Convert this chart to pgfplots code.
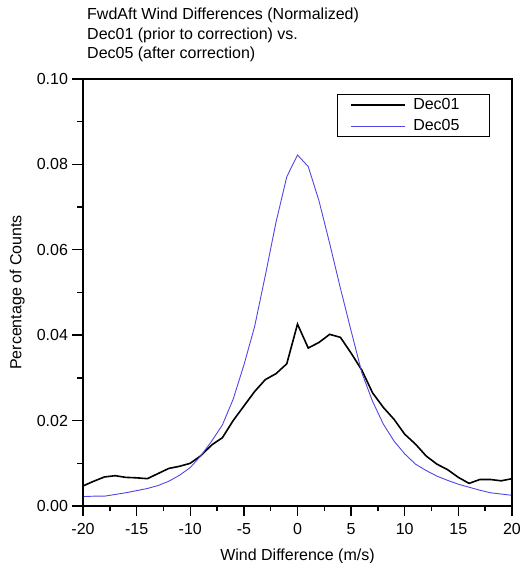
\documentclass[border=0pt]{standalone}
\usepackage{fontspec}
\setmainfont{Liberation Sans}
\usepackage{pgfplots}
\pgfplotsset{compat=1.18}
\definecolor{dec05}{RGB}{80,70,230}
\newcommand{\ffont}{\fontsize{16}{19.5}\selectfont}
\begin{document}
\begin{tikzpicture}
\begin{axis}[
  scale only axis, width=429pt, height=427pt,
  xmin=-20, xmax=20, ymin=0, ymax=0.10,
  xtick={-20,-15,-10,-5,0,5,10,15,20}, minor x tick num=1,
  ytick={0,0.02,0.04,0.06,0.08,0.10}, minor y tick num=1,
  tick align=outside, tick pos=left,
  major tick length=10.5pt, minor tick length=5.5pt,
  axis line style={draw=black, line width=1.5pt},
  every tick/.style={black, line width=1.4pt},
  /pgf/number format/assume math mode=true,
  scaled y ticks=false,
  yticklabel style={/pgf/number format/fixed, /pgf/number format/fixed zerofill, /pgf/number format/precision=2, xshift=-1pt},
  xticklabel style={yshift=-3pt},
  tick label style={font=\ffont},
  label style={font=\ffont},
  xlabel={Wind Difference (m/s)},
  ylabel={Percentage of Counts},
  xlabel style={at={(axis description cs:0.5,-0.1265)}, anchor=base, inner sep=0pt},
  ylabel style={at={(axis description cs:-0.1352,0.5)}, anchor=south, inner sep=0pt},
  title={FwdAft Wind Differences (Normalized)\\Dec01 (prior to correction) vs.\\Dec05 (after correction)},
  title style={at={(axis description cs:0,1)}, anchor=north west, xshift=4pt, yshift=65pt, align=left, inner sep=0pt, font=\ffont},
  legend style={at={(axis description cs:0.9487,0.9649)}, anchor=north east,
    draw=black, line width=1.4pt, fill=white, font=\ffont,
    inner xsep=13pt, inner ysep=3pt, row sep=6pt,
    nodes={inner sep=0pt, text height=11.5pt, text depth=3.4pt},
    /tikz/every odd column/.append style={column sep=7pt}},
  legend cell align=left,
  legend image code/.code={\draw[#1] (0pt,0pt) -- (54pt,0pt);},
]
\addplot[black, line width=1.6pt] coordinates {
(-20,0.0047) (-19,0.0058) (-18,0.0068) (-17,0.0071) (-16,0.0067) (-15,0.0066)
(-14,0.0064) (-13,0.0076) (-12,0.0088) (-11,0.0093) (-10,0.0100) (-9,0.0118)
(-8,0.0143) (-7,0.0160) (-6,0.0200) (-5,0.0234) (-4,0.0268) (-3,0.0296)
(-2,0.0310) (-1,0.0333) (0,0.0426) (1,0.0370) (2,0.0383) (3,0.0402)
(4,0.0395) (5,0.0358) (6,0.0318) (7,0.0265) (8,0.0231) (9,0.0203)
(10,0.0168) (11,0.0145) (12,0.0117) (13,0.0098) (14,0.0085) (15,0.0067)
(16,0.0053) (17,0.0062) (18,0.0062) (19,0.0059) (20,0.0064)
};
\addlegendentry{\makebox[63pt][l]{Dec01}}
\addplot[dec05, line width=0.9pt] coordinates {
(-20,0.0022) (-19,0.0023) (-18,0.0023) (-17,0.0027) (-16,0.0031) (-15,0.0036)
(-14,0.0041) (-13,0.0048) (-12,0.0058) (-11,0.0072) (-10,0.0090) (-9,0.0118)
(-8,0.0152) (-7,0.0190) (-6,0.0250) (-5,0.0330) (-4,0.0420) (-3,0.0540)
(-2,0.0665) (-1,0.0771) (0,0.0822) (1,0.0795) (2,0.0715) (3,0.0615)
(4,0.0510) (5,0.0410) (6,0.0312) (7,0.0245) (8,0.0192) (9,0.0152)
(10,0.0122) (11,0.0098) (12,0.0083) (13,0.0070) (14,0.0060) (15,0.0051)
(16,0.0044) (17,0.0037) (18,0.0031) (19,0.0028) (20,0.0025)
};
\addlegendentry{\makebox[63pt][l]{Dec05}}
\end{axis}
\draw[black, line width=2pt] (current axis.south west) rectangle (current axis.north east);
\pgfresetboundingbox
\path[use as bounding box] ([shift={(-83pt,-57pt)}]current axis.south west) rectangle ([shift={(10pt,79pt)}]current axis.north east);
\end{tikzpicture}
\end{document}
